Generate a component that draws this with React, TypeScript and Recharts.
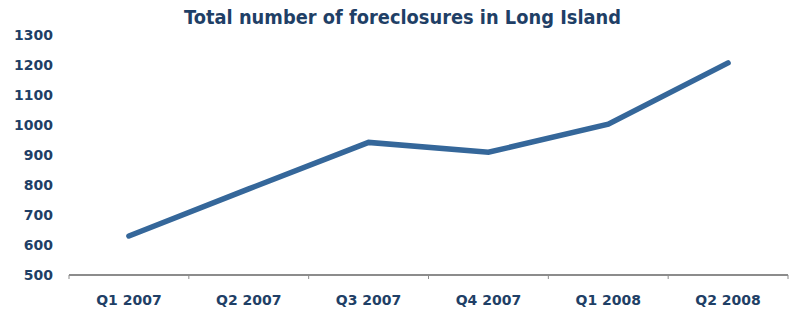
import React from "react";
import { LineChart, Line, XAxis, YAxis } from "recharts";

const categories = ["Q1 2007", "Q2 2007", "Q3 2007", "Q4 2007", "Q1 2008", "Q2 2008"];
const foreclosures = [630, 787, 942, 909, 1003, 1207];
const yTicks = [500, 600, 700, 800, 900, 1000, 1100, 1200, 1300];
const title = "Total number of foreclosures in Long Island";

const data = categories.map((c, i) => ({ quarter: c, value: foreclosures[i] }));

const W = 791;
const H = 310;
const PLOT_LEFT = 69;
const PLOT_RIGHT = 788;
const HALF_BAND = (PLOT_RIGHT - PLOT_LEFT) / categories.length / 2;
const TEXT = "#1F3F66";
const FONT = "'DejaVu Sans', Verdana, sans-serif";

const XTick = (props: any) => {
  const { x, y, payload, index } = props;
  const axisY = y - 20;
  const last = index === categories.length - 1;
  return (
    <g>
      <line x1={x - HALF_BAND} x2={x - HALF_BAND} y1={axisY} y2={axisY + 4} stroke="#8C8C8C" strokeWidth={1} />
      {last && (
        <line x1={x + HALF_BAND} x2={x + HALF_BAND} y1={axisY} y2={axisY + 4} stroke="#8C8C8C" strokeWidth={1} />
      )}
      <text x={x} y={axisY + 30} textAnchor="middle" fill={TEXT} fontFamily={FONT} fontWeight="bold" fontSize={14}>
        {payload.value}
      </text>
    </g>
  );
};

export default function App() {
  return (
    <div style={{ position: "absolute", left: 0, top: 0, width: W, height: H, background: "#fff" }}>
      <LineChart width={W} height={H} data={data} margin={{ top: 35, right: W - PLOT_RIGHT, bottom: 0, left: 0 }}>
        <XAxis
          dataKey="quarter"
          scale="band"
          height={35}
          axisLine={{ stroke: "#8C8C8C", strokeWidth: 2 }}
          tickLine={false}
          tickSize={0}
          tickMargin={20}
          interval={0}
          tick={<XTick />}
        />
        <YAxis
          width={PLOT_LEFT}
          domain={[500, 1300]}
          ticks={yTicks}
          interval={0}
          axisLine={false}
          tickLine={false}
          tickSize={0}
          tickMargin={16}
          tick={{ fill: TEXT, fontFamily: FONT, fontWeight: "bold", fontSize: 14 }}
        />
        <Line
          dataKey="value"
          stroke="#35679A"
          strokeWidth={5.5}
          strokeLinecap="round"
          dot={false}
          activeDot={false}
          isAnimationActive={false}
        />
      </LineChart>
      <svg width={W} height={40} style={{ position: "absolute", left: 0, top: 0 }}>
        <text
          x={402.5}
          y={24}
          textAnchor="middle"
          fill={TEXT}
          fontFamily={FONT}
          fontWeight="bold"
          fontSize={19}
          textLength={437}
          lengthAdjust="spacingAndGlyphs"
        >
          {title}
        </text>
      </svg>
    </div>
  );
}
